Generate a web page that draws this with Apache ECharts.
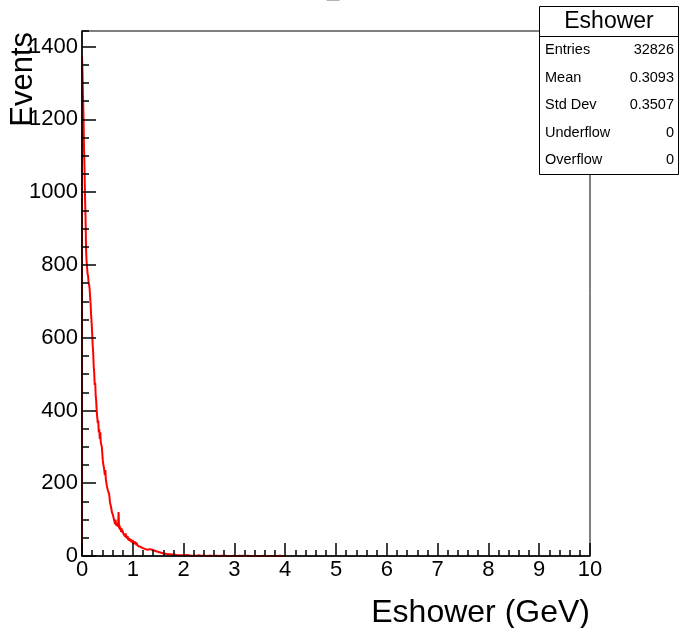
<!DOCTYPE html>
<html>
<head>
<meta charset="utf-8">
<script src="https://cdn.jsdelivr.net/npm/echarts@6/dist/echarts.min.js"></script>
<style>
  html, body { margin: 0; padding: 0; background: #ffffff; }
  #chart { width: 680px; height: 628px; }
</style>
</head>
<body>
<div id="chart"></div>
<script>
// ---- Data ----
// 0.00 - 2.00 GeV, bin width 0.01
const binWidthLow = 0.01;
const countsLow = [
  1374, 1330, 1262, 1205, 1118, 1060, 985, 930, 842, 810,
  793, 776, 770, 752, 745, 735, 712, 690, 662, 640,
  612, 580, 560, 522, 505, 470, 476, 440, 425, 398,
  395, 365, 372, 340, 348, 322, 340, 312, 310, 300,
  296, 262, 252, 244, 240, 222, 236, 210, 212, 192,
  196, 180, 182, 172, 164, 148, 152, 136, 138, 120,
  124, 112, 114, 100, 104, 88, 100, 84, 90, 82,
  88, 80, 121, 76, 84, 72, 78, 66, 76, 64,
  70, 62, 66, 58, 64, 54, 62, 50, 56, 48,
  54, 44, 50, 42, 48, 40, 46, 38, 44, 36,
  44, 34, 41, 33, 40, 32, 38, 30, 36, 29,
  34, 27, 32, 26, 31, 25, 29, 24, 28, 22,
  27, 21, 25, 20, 24, 19, 23, 18, 21, 17,
  19, 20, 18, 19, 17, 18, 16, 17, 15, 16,
  14, 15, 13, 14, 12, 13, 12, 11, 12, 10,
  11, 9, 10, 9, 8, 9, 8, 7, 8, 7,
  7, 6, 7, 6, 6, 5, 6, 5, 5, 6,
  5, 4, 5, 4, 5, 4, 4, 3, 4, 3,
  4, 3, 3, 4, 3, 2, 3, 3, 2, 3,
  2, 3, 2, 2, 3, 2, 1, 2, 2, 1
];
// 2.00 - 4.00 GeV, bin width 0.02
const binWidthTail = 0.02;
const tailStart = 2.0;
const countsTail = [
  2, 2, 3, 1, 2, 2, 1, 2, 1, 2,
  1, 2, 1, 1, 2, 1, 1, 0, 1, 2,
  1, 1, 0, 1, 1, 0, 1, 1, 0, 1,
  1, 0, 1, 1, 0, 0, 1, 0, 1, 0,
  1, 0, 0, 1, 0, 1, 0, 0, 1, 0,
  0, 1, 0, 0, 1, 0, 0, 0, 1, 0,
  0, 0, 1, 0, 0, 0, 0, 1, 0, 0,
  0, 1, 0, 0, 0, 0, 0, 0, 1, 0,
  0, 0, 0, 1, 0, 0, 0, 0, 0, 0,
  0, 0, 0, 0, 1, 0, 0, 0, 0, 0
];
const xTicks = [0, 1, 2, 3, 4, 5, 6, 7, 8, 9, 10];
const yTicks = [0, 200, 400, 600, 800, 1000, 1200, 1400];
const statsName = 'Eshower';
const statsLabels = ['Entries', 'Mean', 'Std Dev', 'Underflow', 'Overflow'];
const statsValues = ['32826', '0.3093', '0.3507', '0', '0'];
const xTitle = 'Eshower (GeV)';
const yTitle = 'Events';

// ---- Build histogram step data (left bin edges) ----
const histData = [[0, 0]];
countsLow.forEach((v, i) => histData.push([i * binWidthLow, v]));
countsTail.forEach((v, i) => histData.push([tailStart + i * binWidthTail, v]));
histData.push([tailStart + countsTail.length * binWidthTail, 0]);

const FONT = 'Liberation Sans, Arial, sans-serif';
const yMax = 1443;

const chart = echarts.init(document.getElementById('chart'), null, { renderer: 'canvas' });

const statsChildren = [
  { type: 'rect', shape: { x: 539.5, y: 6.5, width: 139, height: 168 },
    style: { fill: '#ffffff', stroke: '#000000', lineWidth: 1 } },
  { type: 'line', shape: { x1: 539.5, y1: 36.5, x2: 678.5, y2: 36.5 },
    style: { stroke: '#000000', lineWidth: 1 } },
  { type: 'text', x: 609, y: 22, style: { text: statsName, font: '23px ' + FONT,
    fill: '#000000', textAlign: 'center', textVerticalAlign: 'middle' } }
];
statsLabels.forEach((lab, i) => {
  const yy = 50 + i * 27.6;
  statsChildren.push({ type: 'text', x: 545, y: yy, style: { text: lab, font: '14.5px ' + FONT,
    fill: '#000000', textAlign: 'left', textVerticalAlign: 'middle' } });
  statsChildren.push({ type: 'text', x: 674, y: yy, style: { text: statsValues[i], font: '14.5px ' + FONT,
    fill: '#000000', textAlign: 'right', textVerticalAlign: 'middle' } });
});

const option = {
  animation: false,
  backgroundColor: '#ffffff',
  grid: { left: 82, top: 31, right: 90, bottom: 72, show: true,
          borderColor: '#000000', borderWidth: 1, backgroundColor: 'transparent' },
  xAxis: {
    type: 'value', min: xTicks[0], max: xTicks[xTicks.length - 1], interval: 1, z: 5,
    axisLine: { show: true, onZero: false, lineStyle: { color: '#000000', width: 1.5 } },
    axisTick: { show: true, inside: true, length: 13, lineStyle: { color: '#000000', width: 1.5 } },
    minorTick: { show: true, splitNumber: 5, length: 6, lineStyle: { color: '#000000', width: 1.5 } },
    axisLabel: { color: '#000000', fontFamily: FONT, fontSize: 22, margin: 3 },
    splitLine: { show: false }
  },
  yAxis: [
    {
      type: 'value', min: 0, max: yMax, interval: 50, position: 'left', z: 5,
      axisLine: { show: true, onZero: false, lineStyle: { color: '#000000', width: 1.5 } },
      axisTick: { show: true, inside: true, length: 7, lineStyle: { color: '#000000', width: 1.5 } },
      axisLabel: { show: false },
      splitLine: { show: false }
    },
    {
      type: 'value', min: 0, max: yMax, interval: 200, position: 'left', z: 5,
      axisLine: { show: false },
      axisTick: { show: true, inside: true, length: 14, lineStyle: { color: '#000000', width: 1.5 } },
      axisLabel: { color: '#000000', fontFamily: FONT, fontSize: 22, margin: 4, showMaxLabel: false,
                   formatter: v => (yTicks.indexOf(v) >= 0 ? String(v) : '') },
      splitLine: { show: false }
    }
  ],
  series: [{
    type: 'line', step: 'end', yAxisIndex: 0, data: histData, showSymbol: false, z: 2,
    lineStyle: { color: '#ff0000', width: 2 }, itemStyle: { color: '#ff0000' }
  }],
  graphic: [
    { type: 'text', x: 333, y: -10, z: 10, style: { text: '_', font: '22px ' + FONT, fill: '#000000',
      textAlign: 'center', textVerticalAlign: 'middle' } },
    { type: 'text', x: 23, y: 32, rotation: Math.PI / 2, z: 10,
      style: { text: yTitle, font: '31px ' + FONT, fill: '#000000', textAlign: 'right', textVerticalAlign: 'middle' } },
    { type: 'text', x: 590, y: 613, z: 10,
      style: { text: xTitle, font: '32px ' + FONT, fill: '#000000', textAlign: 'right', textVerticalAlign: 'middle' } },
    { type: 'group', z: 20, children: statsChildren }
  ]
};
chart.setOption(option);
</script>
</body>
</html>
